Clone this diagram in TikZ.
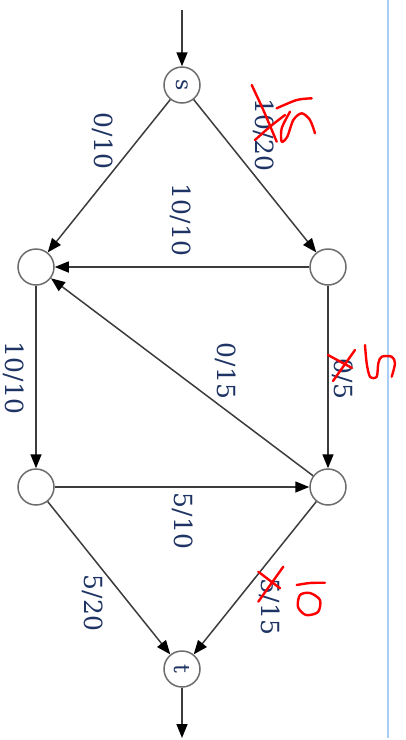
\documentclass[tikz,border=0pt]{standalone}
\usepackage{fontspec}
\setmainfont{DejaVu Serif}
\usetikzlibrary{arrows.meta}
\definecolor{labelblue}{RGB}{30,52,100}
\definecolor{edgegray}{RGB}{60,60,60}
\definecolor{rulerblue}{RGB}{168,206,245}
\begin{document}
\begin{tikzpicture}[x=1pt,y=-1pt,
  vertex/.style={circle,draw=edgegray!75,line width=1.5pt,fill=white,minimum size=36pt,inner sep=0pt,
    text=labelblue,font=\fontsize{22}{26}\selectfont},
  flow/.style={draw=edgegray,line width=1.5pt,-{Triangle[length=14pt,width=11pt,color=black]}},
  flowlabel/.style={text=labelblue,rotate=-90,inner sep=0pt,font=\fontsize{25}{30}\selectfont},
  pen/.style={draw=red,line width=2.4pt,line cap=round,line join=round}]
\useasboundingbox (0,0) rectangle (406,740);
\draw[rulerblue,line width=1.6pt] (388,0) -- (388,738);
% nodes
\node[vertex] (s) at (182,85) {\rotatebox{-90}{s}};
\node[vertex] (a) at (36,267) {};
\node[vertex] (b) at (328,267) {};
\node[vertex] (c) at (36,487) {};
\node[vertex] (d) at (328,487) {};
\node[vertex] (t) at (182,669) {\rotatebox{-90}{t}};
\coordinate (in) at (182,10);
\coordinate (out) at (182,738);
% edges
\draw[flow] (in) -- (s);
\draw[flow] (t) -- (out);
\draw[flow] (s) -- (a);
\draw[flow] (s) -- (b);
\draw[flow] (b) -- (a);
\draw[flow] (a) -- (c);
\draw[flow] (b) -- (d);
\draw[flow] (d) -- (a);
\draw[flow] (c) -- (d);
\draw[flow] (c) -- (t);
\draw[flow] (d) -- (t);
% labels
\node[flowlabel] (lsa) at (103,141) {0/10};
\node[flowlabel] (lsb) at (264,135) {10/20};
\node[flowlabel] (lba) at (181,220) {10/10};
\node[flowlabel] (lac) at (14,378) {10/10};
\node[flowlabel] (lda) at (226,371) {0/15};
\node[flowlabel] (lbd) at (343,379) {0/5};
\node[flowlabel] (lcd) at (183,521) {5/10};
\node[flowlabel] (lct) at (93,603) {5/20};
\node[flowlabel] (ldt) at (270,607) {5/15};
% red handwritten corrections
\draw[pen] plot[smooth] coordinates {(251.7,85) (263.3,110) (276.7,141.7)};
\draw[pen] plot[smooth] coordinates {(255,140) (270,126.7) (285,115)};
\draw[pen] plot[smooth] coordinates {(276.7,108.3) (296.7,100) (311.7,98.3)};
\draw[pen] plot[smooth] coordinates {(290,111.7) (281.7,128.3) (281.7,141.7) (287.3,136.7) (293.3,120) (301.7,113.3) (310,120) (315,133.3)};
\draw[pen] (328,355) -- (352,368);
\draw[pen] (333,381) -- (355,350);
\draw[pen] plot[smooth] coordinates {(365,345) (366.7,363.3) (370,376.7) (376.7,376.7) (378.3,363.3) (381.7,356.7) (391.7,356.7) (395,363.3) (391.7,376.7)};
\draw[pen] (258.3,571.7) -- (280,588.3);
\draw[pen] (258.3,601.7) -- (283.3,566.7);
\draw[pen] plot[smooth] coordinates {(296.7,585) (310,583) (325,582.7)};
\draw[pen] plot[smooth cycle] coordinates {(300,595) (310,593) (320,600) (318,612) (306,615) (298,607)};
\end{tikzpicture}
\end{document}
